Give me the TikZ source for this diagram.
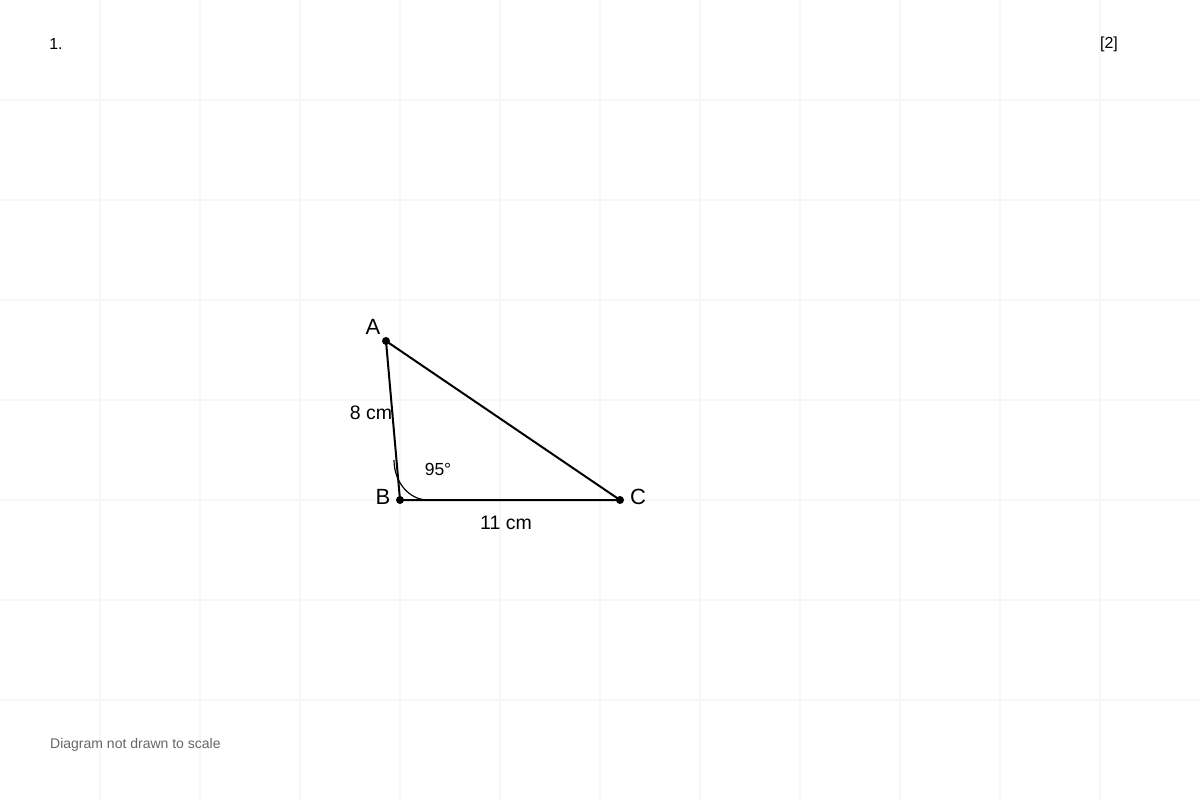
\documentclass[tikz,border=0pt]{standalone}
\usepackage{fontspec}
\setmainfont{Liberation Sans}
\definecolor{gridc}{HTML}{F7F7F7}
\definecolor{notec}{HTML}{666666}
\tikzset{
  gridline/.style={draw=gridc, line width=1.2pt},
  side/.style={draw=black, line width=2pt},
  dot/.style={circle, fill=black, inner sep=0pt, minimum size=8pt},
  vlabel/.style={font=\fontsize{22}{26}\selectfont, inner sep=0pt},
  mlabel/.style={font=\fontsize{19.5}{23}\selectfont, inner sep=0pt},
  alabel/.style={font=\fontsize{17.5}{21}\selectfont, inner sep=0pt},
}
\begin{document}
\begin{tikzpicture}[x=1pt, y=-1pt]
\useasboundingbox[fill=white] (0,0) rectangle (1200,800);
\foreach \i in {100,200,...,1100} {\draw[gridline] (\i,0) -- (\i,800);}
\foreach \j in {100,200,...,700} {\draw[gridline] (0,\j) -- (1200,\j);}
\node[dot] (A) at (386,341) {};
\node[dot] (B) at (400,500) {};
\node[dot] (C) at (620,500) {};
\draw[side] (A.center) -- (B.center) -- (C.center) -- cycle;
\coordinate (arcS) at (394,460);
\coordinate (arcE) at (428,500);
\draw[line width=1.2pt] (arcS) .. controls (394,482) and (409,500) .. (arcE);
\node[vlabel] (lA) at (373,327) {A};
\node[vlabel] (lB) at (383,497) {B};
\node[vlabel] (lC) at (638,497) {C};
\node[mlabel] (lAB) at (371,413) {8 cm};
\node[mlabel] (lBC) at (506,523) {11 cm};
\node[alabel] (lang) at (438,469) {95°};
\node[font=\fontsize{16}{19}\selectfont, inner sep=0pt] (num) at (56,44) {1.};
\node[font=\fontsize{16}{19}\selectfont, inner sep=0pt] (marks) at (1109,44) {[2]};
\node[font=\fontsize{14}{17}\selectfont, text=notec, inner sep=0pt, anchor=west] (note) at (50,745) {Diagram not drawn to scale};
\end{tikzpicture}
\end{document}
